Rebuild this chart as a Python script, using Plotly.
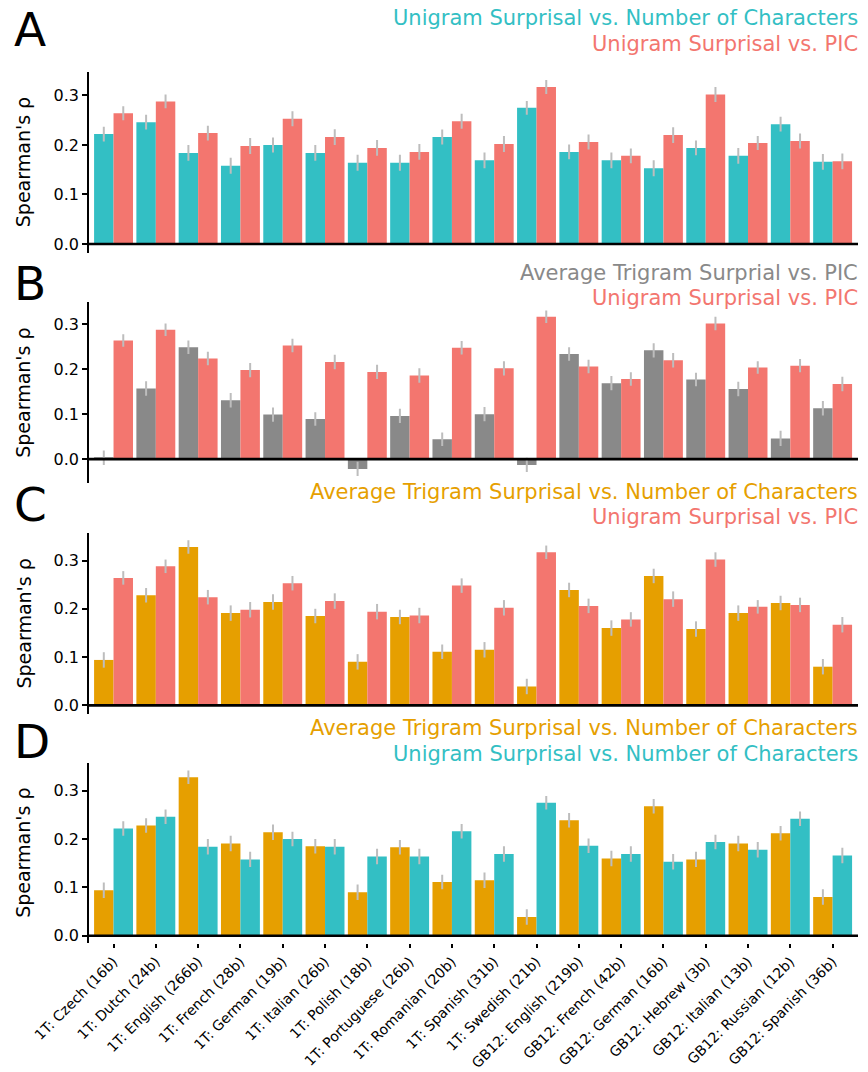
import plotly.graph_objects as go

categories = ["1T: Czech (16b)", "1T: Dutch (24b)", "1T: English (266b)", "1T: French (28b)",
              "1T: German (19b)", "1T: Italian (26b)", "1T: Polish (18b)", "1T: Portuguese (26b)",
              "1T: Romanian (20b)", "1T: Spanish (31b)", "1T: Swedish (21b)", "GB12: English (219b)",
              "GB12: French (42b)", "GB12: German (16b)", "GB12: Hebrew (3b)", "GB12: Italian (13b)",
              "GB12: Russian (12b)", "GB12: Spanish (36b)"]

uni_chars = [0.222, 0.246, 0.184, 0.158, 0.200, 0.184, 0.164, 0.164, 0.216, 0.169, 0.275, 0.186,
             0.169, 0.153, 0.194, 0.178, 0.242, 0.166]
uni_pic = [0.264, 0.288, 0.224, 0.198, 0.253, 0.216, 0.194, 0.186, 0.248, 0.202, 0.317, 0.206,
           0.178, 0.220, 0.302, 0.204, 0.208, 0.167]
tri_pic = [0.003, 0.157, 0.249, 0.131, 0.099, 0.089, -0.022, 0.096, 0.044, 0.100, -0.013, 0.234,
           0.169, 0.242, 0.177, 0.156, 0.046, 0.113]
tri_chars = [0.094, 0.228, 0.328, 0.191, 0.214, 0.185, 0.090, 0.183, 0.111, 0.115, 0.039, 0.239,
             0.160, 0.268, 0.158, 0.191, 0.212, 0.080]

err_uni_chars = [0.015, 0.015, 0.016, 0.016, 0.015, 0.016, 0.016, 0.016, 0.015, 0.016, 0.014, 0.015,
                 0.016, 0.016, 0.015, 0.016, 0.015, 0.016]
err_uni_pic = [0.014, 0.014, 0.015, 0.016, 0.015, 0.016, 0.016, 0.016, 0.015, 0.016, 0.014, 0.015,
               0.015, 0.016, 0.015, 0.014, 0.015, 0.016]
err_tri_pic = [0.016, 0.016, 0.015, 0.016, 0.016, 0.015, 0.016, 0.016, 0.015, 0.016, 0.016, 0.015,
               0.016, 0.016, 0.015, 0.016, 0.017, 0.016]
err_tri_chars = [0.016, 0.015, 0.014, 0.016, 0.016, 0.015, 0.016, 0.015, 0.015, 0.016, 0.016, 0.015,
                 0.016, 0.015, 0.016, 0.016, 0.015, 0.016]

TEAL = "#33BFC4"
RED = "#F3766F"
GRAY = "#898989"
ORANGE = "#E69F00"
ERRC = "#BDBDBD"

panels = [
    ("A", [(uni_chars, err_uni_chars, TEAL), (uni_pic, err_uni_pic, RED)],
     [("Unigram Surprisal vs. Number of Characters", TEAL), ("Unigram Surprisal vs. PIC", RED)]),
    ("B", [(tri_pic, err_tri_pic, GRAY), (uni_pic, err_uni_pic, RED)],
     [("Average Trigram Surprial vs. PIC", GRAY), ("Unigram Surprisal vs. PIC", RED)]),
    ("C", [(tri_chars, err_tri_chars, ORANGE), (uni_pic, err_uni_pic, RED)],
     [("Average Trigram Surprisal vs. Number of Characters", ORANGE), ("Unigram Surprisal vs. PIC", RED)]),
    ("D", [(tri_chars, err_tri_chars, ORANGE), (uni_chars, err_uni_chars, TEAL)],
     [("Average Trigram Surprisal vs. Number of Characters", ORANGE),
      ("Unigram Surprisal vs. Number of Characters", TEAL)]),
]

W, H = 868, 1072
panel_px = [(71.7, 252.7), (302.3, 483.3), (533.0, 714.0), (762.7, 943.0)]
y_ranges = [[-0.0176, 0.348], [-0.054, 0.349], [-0.018, 0.357], [-0.015, 0.358]]
title_centers = [(18, 44), (273, 298.5), (492, 516.5), (727.5, 753.5)]
letter_centers = [29, 283, 505, 741]
x_left, x_right = 89, 858

FONT = "DejaVu Sans"

fig = go.Figure()
layout = dict(
    width=W, height=H, margin=dict(l=0, r=0, t=0, b=0),
    paper_bgcolor="white", plot_bgcolor="white",
    barmode="group", bargap=0.08, bargroupgap=0.0,
    showlegend=False,
    font=dict(family=FONT, color="black"),
)
annotations = []
shapes = []

for i, (letter, series, titles) in enumerate(panels):
    k = "" if i == 0 else str(i + 1)
    xa, ya = "x" + k, "y" + k
    for j, (vals, errs, col) in enumerate(series):
        fig.add_trace(go.Bar(
            x=categories, y=vals, xaxis=xa, yaxis=ya,
            marker=dict(color=col, line=dict(width=0)),
            offsetgroup=str(j),
            error_y=dict(type="data", array=errs, color=ERRC, thickness=2, width=0),
        ))
    top, bot = panel_px[i]
    last = (i == 3)
    layout["xaxis" + k] = dict(
        domain=[x_left / W, x_right / W], anchor=ya, type="category",
        categoryorder="array", categoryarray=categories,
        range=[-0.58, 17.6], showgrid=False, zeroline=False, showline=False,
        showticklabels=last, ticks="outside" if last else "",
        ticklen=4, tickwidth=1.5, tickcolor="black", tickangle=-45,
        tickfont=dict(family=FONT, size=14.1, color="black"),
        automargin=False, fixedrange=True,
        matches=None if i == 0 else "x",
    )
    layout["yaxis" + k] = dict(
        domain=[1 - bot / H, 1 - top / H], anchor=xa,
        range=y_ranges[i], showgrid=False, zeroline=False,
        showline=True, linecolor="black", linewidth=1.5,
        ticks="outside", ticklen=5, tickwidth=1.5, tickcolor="black",
        tickvals=[0.0, 0.1, 0.2, 0.3], tickformat=".1f",
        tickfont=dict(family=FONT, size=16, color="black"),
        automargin=False, fixedrange=True,
    )
    shapes.append(dict(type="line", xref=xa + " domain", yref=ya, x0=0, x1=1, y0=0, y1=0,
                       line=dict(color="black", width=2.7), layer="above"))
    for (txt, col), yc in zip(titles, title_centers[i]):
        annotations.append(dict(text=txt, xref="paper", yref="paper", x=860 / W, y=1 - yc / H,
                                xanchor="right", yanchor="middle", showarrow=False,
                                font=dict(family=FONT, size=21, color=col)))
    annotations.append(dict(text=letter, xref="paper", yref="paper", x=12 / W, y=1 - letter_centers[i] / H,
                            xanchor="left", yanchor="middle", showarrow=False,
                            font=dict(family=FONT, size=47, color="black")))
    annotations.append(dict(text="Spearman's ρ", xref="paper", yref="paper", x=23 / W,
                            y=1 - (top + bot) / 2 / H, xanchor="center", yanchor="middle",
                            textangle=-90, showarrow=False,
                            font=dict(family=FONT, size=19, color="black")))

layout["annotations"] = annotations
layout["shapes"] = shapes
fig.update_layout(**layout)
fig.write_html("out.html")
